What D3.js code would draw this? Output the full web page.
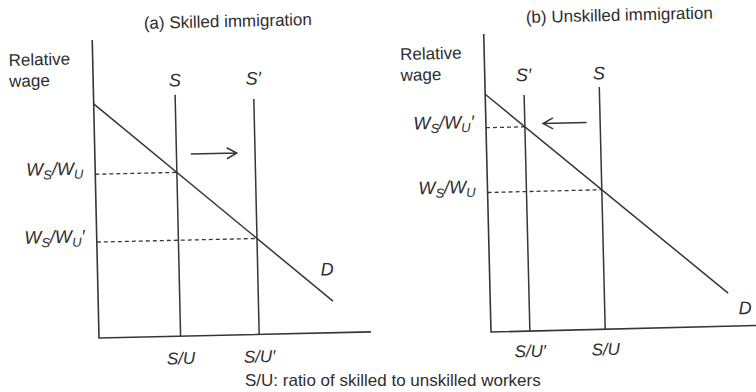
<!DOCTYPE html>
<html>
<head>
<meta charset="utf-8">
<script src="https://cdn.jsdelivr.net/npm/d3@7"></script>
<style>
  html, body { margin: 0; padding: 0; background: #fff; }
  svg { display: block; }
  text { font-family: "Liberation Sans", Arial, Helvetica, sans-serif; fill: #2e2e2e; }
</style>
</head>
<body>
<svg id="chart" width="756" height="392"></svg>
<script>
// ---- text ----
const panelTitles = ["(a) Skilled immigration", "(b) Unskilled immigration"];
const axisTitle = ["Relative", "wage"];
const caption = "S/U: ratio of skilled to unskilled workers";
const supplyLabels = ["S", "S\u2032"];
const ratioLabels = ["S/U", "S/U\u2032"];
// relative-wage labels as [text, isSubscript] runs
const wageLabels = [
  [["W", 0], ["S", 1], ["/W", 0], ["U", 1]],
  [["W", 0], ["S", 1], ["/W", 0], ["U", 1], ["\u2032", 0]]
];

// ---- values (ratio S/U on x, relative wage on y, both 0..10) ----
// position of the vertical supply curves [S, S′]
const supplyA = [3.0, 5.89];
const supplyB = [4.2, 1.43];
// height reached by each supply curve [S, S′]
const supplyTopA = [8.1, 7.9];
const supplyTopB = [8.13, 7.92];
// demand curve end points [ratio, wage]
const demandA = [[0, 7.86], [8.63, 1.06]];
const demandB = [[0, 7.98], [8.75, 1.11]];
// supply shift arrows [from ratio, to ratio, wage]
const shiftA = [3.53, 5.22, 6.1];
const shiftB = [3.7, 2.1, 6.95];

// ---- layout ----
const ink = "#363636";
const layouts = [
  { origin: [99, 338], tilt: -1.3, dLabel: [8.44, 2.14], ratioGap: 22 },
  { origin: [491, 332], tilt: -1.4, dLabel: [9.36, 0.6], ratioGap: 20 }
];
const panels = [
  { title: panelTitles[0], supply: supplyA, tops: supplyTopA, demand: demandA, shift: shiftA },
  { title: panelTitles[1], supply: supplyB, tops: supplyTopB, demand: demandB, shift: shiftB }
];

const x = d3.scaleLinear().domain([0, 10]).range([0, 272]);
const y = d3.scaleLinear().domain([0, 10]).range([0, -298]);
const line = d3.line().x(d => x(d[0])).y(d => y(d[1]));

const svg = d3.select("#chart");

function demandAt(dem, r) {
  const [[x0, y0], [x1, y1]] = dem;
  return y0 + (y1 - y0) * (r - x0) / (x1 - x0);
}

function wageText(sel, runs) {
  runs.forEach(([t, sub], i) => {
    const prevSub = i > 0 ? runs[i - 1][1] : 0;
    const dy = sub && !prevSub ? 4 : (!sub && prevSub ? -4 : 0);
    sel.append("tspan")
      .attr("dy", dy)
      .attr("font-size", sub ? 13 : 18)
      .text(t);
  });
}

panels.forEach((p, i) => {
  const L = layouts[i];
  const g = svg.append("g")
    .attr("transform", `translate(${L.origin[0]},${L.origin[1]}) rotate(${L.tilt})`);

  // title
  g.append("text")
    .attr("x", x(5)).attr("y", -314).attr("dy", "0.35em")
    .attr("text-anchor", "middle").attr("font-size", 17)
    .text(p.title);

  // vertical axis title
  axisTitle.forEach((t, k) => {
    g.append("text")
      .attr("x", -84).attr("y", -280 + k * 21).attr("dy", "0.35em")
      .attr("font-size", 17)
      .text(t);
  });

  // axes
  g.append("path")
    .attr("d", line([[0, 10], [0, 0], [10, 0]]))
    .attr("fill", "none").attr("stroke", ink).attr("stroke-width", 1.6);

  // demand curve
  g.append("path")
    .attr("d", line(p.demand))
    .attr("fill", "none").attr("stroke", ink).attr("stroke-width", 1.5);
  g.append("text")
    .attr("x", x(L.dLabel[0])).attr("y", y(L.dLabel[1])).attr("dy", "0.35em")
    .attr("text-anchor", "middle").attr("font-size", 18).attr("font-style", "italic")
    .text("D");

  // supply curves, equilibrium wages and labels
  p.supply.forEach((r, k) => {
    const w = demandAt(p.demand, r);
    g.append("path")
      .attr("d", line([[r, 0], [r, p.tops[k]]]))
      .attr("fill", "none").attr("stroke", ink).attr("stroke-width", 1.5);
    g.append("path")
      .attr("d", line([[0, w], [r, w]]))
      .attr("fill", "none").attr("stroke", ink).attr("stroke-width", 1.3)
      .attr("stroke-dasharray", "4,3");
    g.append("text")
      .attr("x", x(r)).attr("y", y(8.6)).attr("dy", "0.35em")
      .attr("text-anchor", "middle").attr("font-size", 18).attr("font-style", "italic")
      .text(supplyLabels[k]);
    g.append("text")
      .attr("x", x(r)).attr("y", L.ratioGap).attr("dy", "0.35em")
      .attr("text-anchor", "middle").attr("font-size", 17).attr("font-style", "italic")
      .text(ratioLabels[k]);
    const wl = g.append("text")
      .attr("x", -12).attr("y", y(w)).attr("dy", "0.35em")
      .attr("text-anchor", "end").attr("font-style", "italic");
    wageText(wl, wageLabels[k]);
  });

  // shift arrow
  const [a0, a1, aw] = p.shift;
  const dir = Math.sign(a1 - a0);
  const tx = x(a1), ty = y(aw);
  g.append("path")
    .attr("d", `M${x(a0)},${ty}L${tx},${ty}M${tx - dir * 10},${ty - 5.5}L${tx},${ty}L${tx - dir * 10},${ty + 5.5}`)
    .attr("fill", "none").attr("stroke", ink).attr("stroke-width", 1.5);
});

// shared caption
svg.append("text")
  .attr("x", 245).attr("y", 380).attr("dy", "0.35em")
  .attr("font-size", 17)
  .text(caption);
</script>
</body>
</html>
